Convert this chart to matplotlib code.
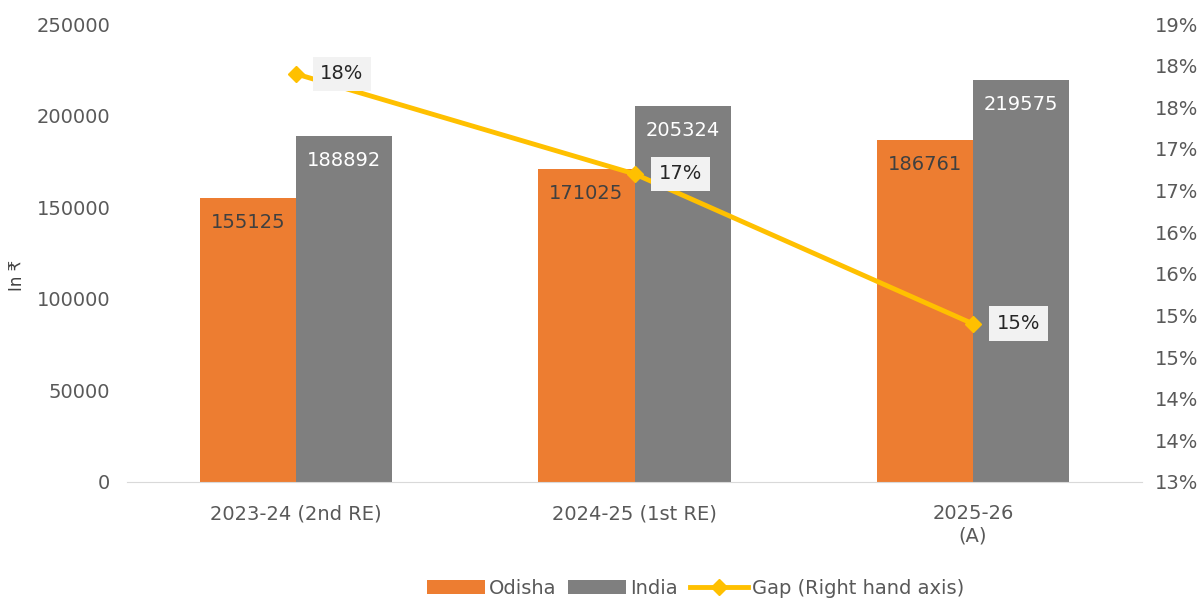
import numpy as np
import matplotlib.pyplot as plt
from matplotlib.ticker import FuncFormatter

years = ["2023-24 (2nd RE)", "2024-25 (1st RE)", "2025-26\n(A)"]
odisha = [155125, 171025, 186761]
india = [188892, 205324, 219575]
gap = [0.179, 0.167, 0.149]
gap_labels = ["18%", "17%", "15%"]

plt.rcParams['font.family'] = ['DejaVu Sans']

ORANGE = "#ED7D31"
GREY = "#7F7F7F"
GOLD = "#FFC000"
TXT = "#595959"

fig = plt.figure(figsize=(12.03, 6.0), dpi=100)
ax = fig.add_axes([0.1056, 0.1967, 0.8437, 0.7633])
ax2 = ax.twinx()

x = np.arange(len(years))
w = 0.284
ax.bar(x - w / 2, odisha, w, color=ORANGE, label="Odisha")
ax.bar(x + w / 2, india, w, color=GREY, label="India")

for i in range(len(years)):
    ax.annotate(str(odisha[i]), (x[i] - w / 2, odisha[i]), xytext=(0, -18),
                textcoords="offset points", ha="center", va="center",
                fontsize=14, color="#404040")
    ax.annotate(str(india[i]), (x[i] + w / 2, india[i]), xytext=(0, -18),
                textcoords="offset points", ha="center", va="center",
                fontsize=14, color="white")

ax.set_xlim(-0.5, 2.5)
ax.set_ylim(0, 250000)
ax.set_yticks(np.arange(0, 250001, 50000))
ax.set_xticks(x)
ax.set_xticklabels(years)
ax.set_ylabel("In ₹", fontsize=12, color="#404040")
ax.yaxis.set_label_coords(-0.1, 0.45)

ax2.plot(x, gap, color=GOLD, lw=3.5, marker="D", ms=13, label="Gap (Right hand axis)")
for i in range(len(years)):
    ax2.annotate(gap_labels[i], (x[i], gap[i]), xytext=(33, 0),
                 textcoords="offset points", ha="center", va="center",
                 fontsize=14, color="#262626",
                 bbox=dict(boxstyle="square,pad=0.4", fc="#F2F2F2", ec="none"))
ax2.set_ylim(0.13, 0.185)
ax2.set_yticks(np.arange(0.13, 0.1851, 0.005))
ax2.yaxis.set_major_formatter(FuncFormatter(lambda v, p: f"{int(np.floor(v * 100 + 0.5 + 1e-9))}%"))

for a in (ax, ax2):
    for s in a.spines.values():
        s.set_visible(False)
    a.tick_params(length=0, labelsize=14, colors=TXT)
ax.spines['bottom'].set_visible(True)
ax.spines['bottom'].set_color("#D9D9D9")
ax.tick_params(axis='y', pad=12)
ax.tick_params(axis='x', pad=16)
ax2.tick_params(axis='y', pad=9)

h1, l1 = ax.get_legend_handles_labels()
h2, l2 = ax2.get_legend_handles_labels()
h2[0].set_markersize(8)
fig.legend(h1 + h2, l1 + l2, loc="lower center", bbox_to_anchor=(0.578, -0.025),
           ncol=3, frameon=False, fontsize=14, labelcolor=TXT,
           handlelength=3.0, handletextpad=0.2, columnspacing=0.6)

fig.savefig("out.png", dpi=100)
